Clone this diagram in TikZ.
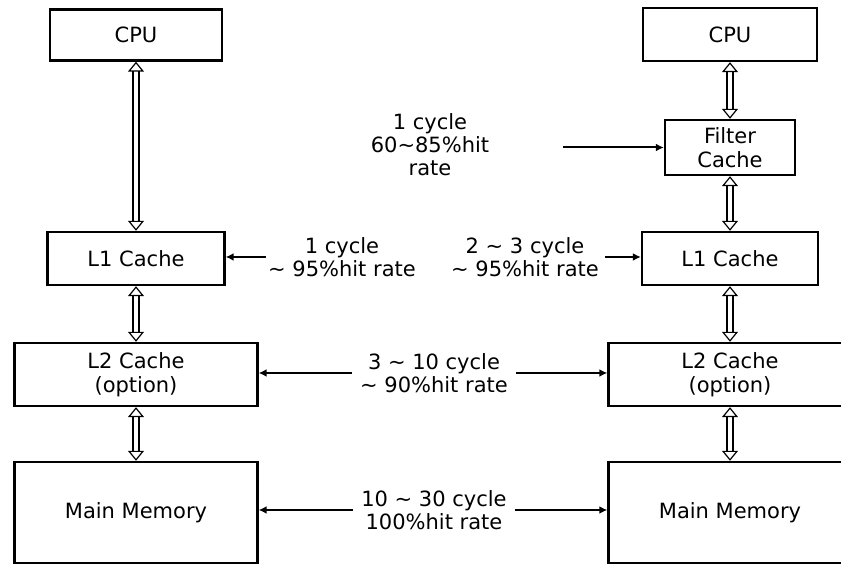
\documentclass[tikz,border=0pt]{standalone}
\usepackage{fontspec}
\setmainfont{DejaVu Sans}
\usetikzlibrary{arrows.meta, positioning, calc}
\tikzset{
  unit/.style   = {draw, line width=1.2pt, align=center, inner sep=2pt,
                   font=\fontsize{10.5}{12}\selectfont},
  note/.style   = {align=center, inner sep=3pt, font=\fontsize{10.5}{11.5}\selectfont},
  bus/.style    = {double, double distance=2.4pt, line width=0.6pt,
                   {Triangle[open, length=5pt, width=8pt, line width=0.6pt]}-{Triangle[open, length=5pt, width=8pt, line width=0.6pt]}},
  lat/.style    = {-{Latex[length=4pt, width=4pt]}, line width=1pt}
}

\begin{document}
\begin{tikzpicture}[x=0.5pt, y=-0.5pt]
\clip (0,0) rectangle (841,565);
% conventional hierarchy
\node[unit, minimum width=86pt, minimum height=25.5pt] (cpuA) at (136,35) {CPU};
\node[unit, minimum width=88.5pt, minimum height=26.5pt] (l1A) at (136,258.5) {L1 Cache};
\node[unit, minimum width=121.5pt, minimum height=31.5pt] (l2A) at (136,374.5) {L2 Cache\\(option)};
\node[unit, minimum width=121.5pt, minimum height=50.5pt] (memA) at (136,512.5) {Main Memory};
% hierarchy with filter cache
\node[unit, minimum width=87pt, minimum height=26.5pt] (cpuB) at (730,34.5) {CPU};
\node[unit, minimum width=65pt, minimum height=27.5pt] (fltB) at (730,147.5) {Filter\\Cache};
\node[unit, minimum width=88pt, minimum height=26.5pt] (l1B) at (730,258.5) {L1 Cache};
\node[unit, minimum width=121.5pt, minimum height=31.5pt] (l2B) at (730,374.5) {L2 Cache\\(option)};
\node[unit, minimum width=121.5pt, minimum height=50.5pt] (memB) at (730,512.5) {Main Memory};

\draw[bus] (cpuA.south) -- (l1A.north);
\draw[bus] (l1A.south) -- (l2A.north);
\draw[bus] (l2A.south) -- (memA.north);
\draw[bus] (cpuB.south) -- (fltB.north);
\draw[bus] (fltB.south) -- (l1B.north);
\draw[bus] (l1B.south) -- (l2B.north);
\draw[bus] (l2B.south) -- (memB.north);

% latencies
\node[note] (tFlt) at (430,145) {1 cycle\\60\textasciitilde85\%hit\\rate};
\coordinate (fltIn) at (563,147.5);
\draw[lat] (fltIn) -- (fltIn -| fltB.west);
\node[note, inner sep=1pt] (tL1A) at (342,257) {1 cycle\\\textasciitilde{} 95\%hit rate};
\draw[lat] (tL1A.west) -- (tL1A.west -| l1A.east);
\node[note] (tL1B) at (525,257) {2 \textasciitilde{} 3 cycle\\\textasciitilde{} 95\%hit rate};
\draw[lat] (tL1B.east) -- (tL1B.east -| l1B.west);
\node[note, inner sep=4pt] (tL2) at (434,373) {3 \textasciitilde{} 10 cycle\\\textasciitilde{} 90\%hit rate};
\draw[lat] (tL2.west) -- (tL2.west -| l2A.east);
\draw[lat] (tL2.east) -- (tL2.east -| l2B.west);
\node[note, inner sep=4pt] (tMem) at (434,510) {10 \textasciitilde{} 30 cycle\\100\%hit rate};
\draw[lat] (tMem.west) -- (tMem.west -| memA.east);
\draw[lat] (tMem.east) -- (tMem.east -| memB.west);
\end{tikzpicture}
\end{document}
